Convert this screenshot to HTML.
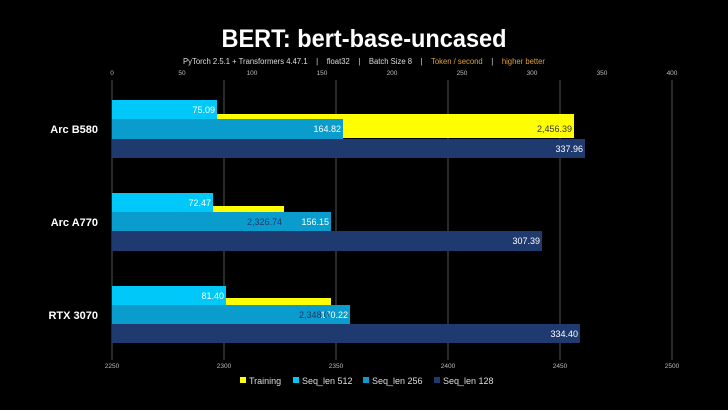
<!DOCTYPE html>
<html><head><meta charset="utf-8"><style>
html,body{margin:0;padding:0;background:#000;}
svg{display:block;font-family:"Liberation Sans",sans-serif;}
</style></head><body>
<svg width="728" height="410" viewBox="0 0 728 410" xmlns="http://www.w3.org/2000/svg">
<rect width="728" height="410" fill="#000"/>
<text x="364" y="47" fill="#fff" font-size="25" font-weight="bold" text-anchor="middle" textLength="285" lengthAdjust="spacingAndGlyphs">BERT: bert-base-uncased</text>
<text x="364" y="64" font-size="8" text-anchor="middle" fill="#ddd" style="white-space:pre" textLength="362" lengthAdjust="spacingAndGlyphs">PyTorch 2.5.1 + Transformers 4.47.1    |    float32    |    Batch Size 8    |    <tspan fill="#e0a040">Token / second</tspan>    |    <tspan fill="#e0a040">higher better</tspan></text>
<g fill="#bbb" font-size="6.5" text-anchor="middle">
<text x="112" y="75">0</text><text x="182" y="75">50</text><text x="252" y="75">100</text><text x="322" y="75">150</text><text x="392" y="75">200</text><text x="462" y="75">250</text><text x="532" y="75">300</text><text x="602" y="75">350</text><text x="672" y="75">400</text>
<text x="112" y="368">2250</text><text x="224" y="368">2300</text><text x="336" y="368">2350</text><text x="448" y="368">2400</text><text x="560" y="368">2450</text><text x="672" y="368">2500</text>
</g>
<g stroke="#555" stroke-width="1">
<line x1="112" y1="80" x2="112" y2="360"/><line x1="224" y1="80" x2="224" y2="360"/><line x1="336" y1="80" x2="336" y2="360"/><line x1="448" y1="80" x2="448" y2="360"/><line x1="560" y1="80" x2="560" y2="360"/><line x1="672" y1="80" x2="672" y2="360"/>
</g>
<rect x="112" y="114" width="462" height="24" fill="#ffff00"/>
<rect x="112" y="100" width="105" height="19" fill="#00c8f8"/>
<rect x="112" y="119" width="231" height="20" fill="#0a9ccc"/>
<rect x="112" y="139" width="473" height="19" fill="#1e3a6e"/>
<rect x="112" y="206" width="172" height="25" fill="#ffff00"/>
<rect x="112" y="193" width="101" height="19" fill="#00c8f8"/>
<rect x="112" y="212" width="219" height="19" fill="#0a9ccc"/>
<rect x="112" y="231" width="430" height="20" fill="#1e3a6e"/>
<rect x="112" y="298" width="219" height="25" fill="#ffff00"/>
<rect x="112" y="286" width="114" height="19" fill="#00c8f8"/>
<rect x="112" y="305" width="238" height="19" fill="#0a9ccc"/>
<rect x="112" y="324" width="468" height="19" fill="#1e3a6e"/>
<g font-size="9" text-anchor="end" fill="#fff">
<text x="215" y="113">75.09</text><text x="341" y="132">164.82</text><text x="583" y="152">337.96</text><text x="572" y="132" fill="#333">2,456.39</text>
<text x="211" y="206">72.47</text><text x="329" y="225">156.15</text><text x="540" y="244">307.39</text><text x="282" y="225" fill="#1e3a6e">2,326.74</text>
<text x="224" y="299">81.40</text><text x="348" y="318">170.22</text><text x="578" y="337">334.40</text><text x="329" y="318" fill="#1e3a6e">2,348.0</text>
</g>
<g font-size="11" font-weight="bold" fill="#fff" text-anchor="end">
<text x="98" y="133">Arc B580</text><text x="98" y="226">Arc A770</text><text x="98" y="319">RTX 3070</text>
</g>
<g font-size="9" fill="#ddd">
<rect x="240" y="377" width="6" height="6" fill="#ffff00"/><text x="249" y="384">Training</text>
<rect x="293" y="377" width="6" height="6" fill="#00c8f8"/><text x="302" y="384">Seq_len 512</text>
<rect x="363" y="377" width="6" height="6" fill="#0a9ccc"/><text x="372" y="384">Seq_len 256</text>
<rect x="434" y="377" width="6" height="6" fill="#1e3a6e"/><text x="443" y="384">Seq_len 128</text>
</g>
</svg>
</body></html>
